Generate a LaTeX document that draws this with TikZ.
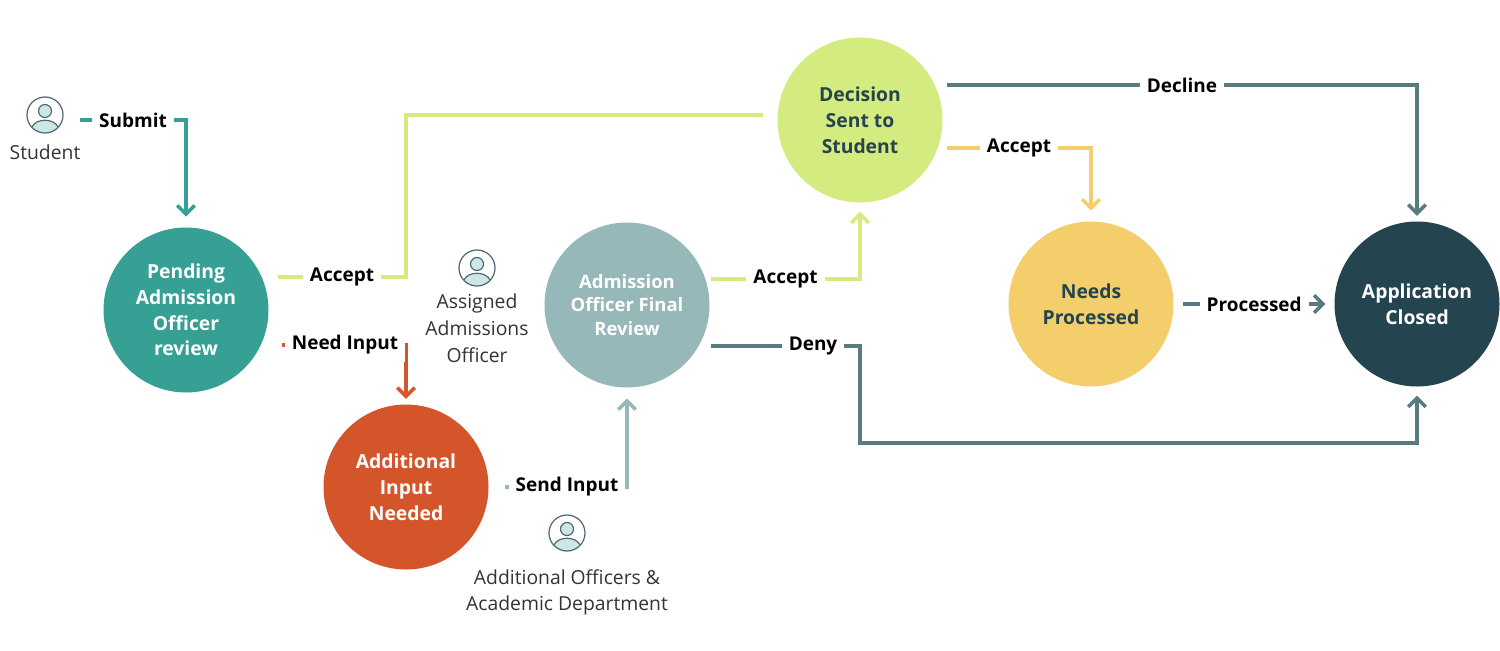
\documentclass[tikz,border=0pt]{standalone}
\usepackage{fontspec}
\setmainfont{Open Sans}
\usetikzlibrary{arrows.meta}
\definecolor{tealc}{HTML}{36A095}
\definecolor{limec}{HTML}{D4EB7F}
\definecolor{greyc}{HTML}{97B8B8}
\definecolor{orangec}{HTML}{D5552A}
\definecolor{yellowc}{HTML}{F3CE6B}
\definecolor{darkc}{HTML}{24444F}
\definecolor{slatec}{HTML}{5A7A82}
\definecolor{iconc}{HTML}{CDE7E6}
\tikzset{
  state/.style={circle, draw=none, minimum size=165*0.02cm, align=center,
    font=\fontsize{11}{14.7}\selectfont\bfseries, text=white},
  lbl/.style={fill=white, inner sep=4pt, text=black, font=\fontsize{10.8}{13}\selectfont\bfseries},
  who/.style={font=\fontsize{11}{15.3}\selectfont, text=black!80, align=center},
  flow/.style={line width=2.2pt, -{Straight Barb[length=5pt,width=10pt,line width=2pt]}},
  link/.style={line width=2.2pt},
  pics/person/.style={code={
    \begin{scope}
      \clip (0,0) circle (18);
      \fill[iconc] (0,14) ellipse (12 and 9);
    \end{scope}
    \fill[iconc] (0,-4) circle (6.5);
    \draw[darkc!80, line width=0.7pt] (0,-4) circle (6.5);
    \draw[darkc!80, line width=0.7pt] (-13,12) .. controls (-9,3) and (9,3) .. (13,12);
    \draw[darkc!80, line width=0.7pt] (0,0) circle (18);
  }}
}
\begin{document}
\begin{tikzpicture}[x=0.02cm, y=-0.02cm]
\useasboundingbox (0,0) rectangle (1500,650);
% states
\node[state, fill=tealc] (pend) at (186,310) {Pending\\Admission\\Officer\\review};
\node[state, fill=orangec] (addin) at (406,487) {Additional\\Input\\Needed};
\node[state, fill=greyc, font=\fontsize{10.5}{13.5}\selectfont\bfseries] (final) at (627,305) {Admission\\Officer Final\\Review};
\node[state, fill=limec, text=darkc] (sent) at (860,120) {Decision\\Sent to\\Student};
\node[state, fill=yellowc, text=darkc] (proc) at (1091,304) {Needs\\Processed};
\node[state, fill=darkc] (closed) at (1417,304) {Application\\Closed};
% free ends
\coordinate (s0) at (80,120);
\coordinate (a0) at (278,277);
\coordinate (a1) at (763,115);
\coordinate (n0) at (282,345);
\coordinate (i0) at (505,487);
\coordinate (f0) at (711,279);
\coordinate (d0) at (711,346);
\coordinate (c0) at (947,85);
\coordinate (y0) at (947,148);
\coordinate (p0) at (1183,304);
% connectors
\draw[flow, tealc] (s0) -| ([yshift=6pt]pend.north) node[lbl, pos=0.25] {Submit};
\draw[link, limec] (a0) -- (406,277) |- (a1);
\node[lbl] at (342,277) {Accept};
\draw[flow, orangec] (n0) -| ([yshift=3pt]addin.north);
\node[lbl] at (345,345) {Need Input};
\draw[flow, greyc] (i0) -| ([yshift=-6pt]final.south);
\node[lbl] at (567,487) {Send Input};
\draw[flow, limec] (f0) -| ([yshift=-5pt]sent.south) node[lbl, pos=0.25] {Accept};
\draw[flow, slatec] (d0) -- (860,346) |- (1417,443) -- ([yshift=-5pt]closed.south);
\node[lbl] at (813,346) {Deny};
\draw[flow, slatec] (c0) -| ([yshift=3pt]closed.north) node[lbl, pos=0.25] {Decline};
\draw[flow, yellowc] (y0) -| ([yshift=6pt]proc.north) node[lbl, pos=0.25] {Accept};
\draw[flow, slatec] (p0) -- ([xshift=-5pt]closed.west) node[lbl, midway] {Processed};
% actors
\pic at (45,115) {person};
\node[who] (stud) at (45,152) {Student};
\pic at (477,268) {person};
\node[who, anchor=north] (assig) at (477,288) {Assigned\\Admissions\\Officer};
\pic at (567,533) {person};
\node[who, anchor=north] (other) at (567,563) {Additional Officers \&\\Academic Department};
\end{tikzpicture}
\end{document}
